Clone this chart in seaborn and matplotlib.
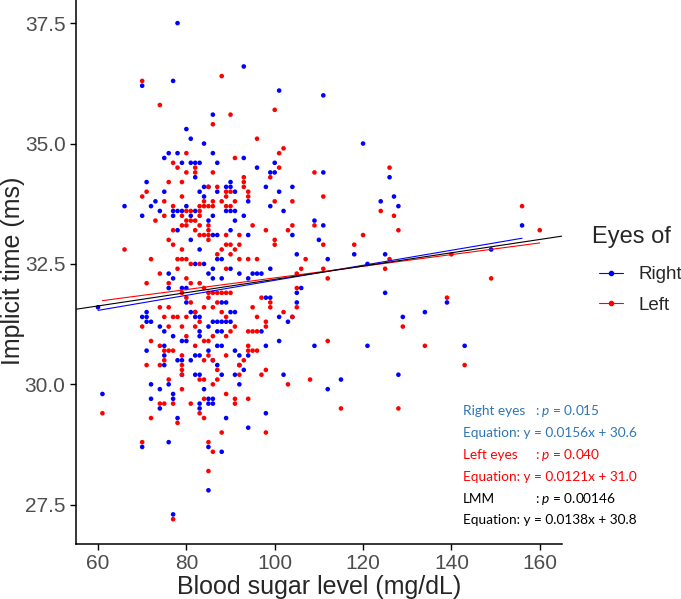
import matplotlib
matplotlib.use("Agg")
import numpy as np
import pandas as pd
import matplotlib.pyplot as plt
import seaborn as sns
from matplotlib.lines import Line2D

# points: (blood sugar mg/dL, implicit time ms)
right_points = [
    (78, 37.5), (93, 36.6), (70, 36.2), (77, 36.3), (101, 36.1), (86, 35.6), (80, 35.3),
    (81, 35.1), (84, 35.0), (76, 34.8), (78, 34.8), (75, 34.7), (79, 34.6), (81, 34.6), (82, 34.6),
    (83, 34.6), (82, 34.3), (71, 34.2), (84, 34.1), (85, 34.1), (75, 34.0), (83, 34.0), (84, 33.9),
    (73, 33.8), (66, 33.7), (72, 33.7), (80, 33.7), (74, 33.6), (77, 33.6), (78, 33.6), (79, 33.6),
    (82, 33.6), (70, 33.5), (77, 33.5), (81, 33.5), (85, 33.4), (78, 33.2), (81, 33.0),
    (86, 34.8), (87, 34.6), (93, 34.7), (96, 34.5), (100, 34.6), (99, 34.4), (100, 34.4), (90, 34.2),
    (89, 34.1), (90, 34.1), (98, 34.1), (104, 34.1), (87, 34.0), (91, 34.0), (101, 34.0), (94, 33.8),
    (99, 33.7), (89, 33.6), (90, 33.6), (91, 33.6), (102, 33.6), (86, 33.5), (93, 33.5), (91, 33.4),
    (90, 33.2), (86, 33.1), (87, 33.1), (94, 33.1), (104, 33.1),
    (83, 32.8), (82, 32.5), (84, 32.5), (76, 32.3), (77, 32.2), (76, 32.0), (79, 32.0), (80, 32.0),
    (80, 31.7), (71, 31.5), (70, 31.4), (71, 31.4), (81, 31.5), (82, 31.5), (82, 31.4), (83, 31.4),
    (71, 31.3), (72, 31.3), (74, 31.2), (75, 31.1), (77, 31.0), (83, 31.1), (83, 31.0), (79, 30.9),
    (80, 30.9), (75, 30.8), (71, 30.7), (75, 30.6), (78, 30.5), (79, 30.5), (82, 30.6), (83, 30.6),
    (87, 32.6), (88, 32.6), (86, 32.4), (85, 32.3), (90, 32.4), (92, 32.3), (95, 32.3), (96, 32.3),
    (97, 32.3), (99, 32.4), (86, 32.2), (88, 32.2), (94, 32.2), (98, 31.8), (99, 31.8), (88, 31.7),
    (89, 31.7), (90, 31.5), (91, 31.5), (101, 31.4), (103, 31.3), (86, 31.3), (87, 31.3), (88, 31.3),
    (89, 31.3), (90, 31.3), (85, 31.2), (87, 31.1), (88, 31.1), (97, 31.1), (101, 30.9), (87, 30.8),
    (88, 30.8), (98, 30.8), (85, 30.7), (91, 30.7), (87, 30.4), (92, 30.6), (94, 30.6),
    (75, 30.4), (81, 30.5), (79, 30.2), (82, 30.2), (83, 30.2), (72, 30.0), (76, 30.0), (74, 29.9),
    (84, 29.9), (77, 29.8), (72, 29.7), (77, 29.7), (85, 29.7), (74, 29.5), (83, 29.6), (83, 29.5),
    (78, 29.3), (70, 28.7), (76, 28.8), (85, 28.7), (85, 27.8), (77, 27.3),
    (86, 30.5), (92, 30.4), (88, 30.2), (91, 30.2), (93, 30.3), (102, 30.2), (92, 30.0), (86, 29.7),
    (85, 29.6), (86, 29.6), (98, 29.4), (89, 29.3), (94, 29.1), (88, 28.6),
    (111, 36.0), (120, 35.0), (111, 34.4), (126, 34.3), (127, 33.9), (124, 33.8), (128, 33.7),
    (109, 33.4), (111, 33.3), (110, 33.0), (105, 32.7), (112, 32.6), (118, 32.7), (125, 32.7),
    (121, 32.5), (106, 32.0), (105, 31.9), (125, 31.9), (105, 31.7), (104, 31.4), (129, 31.4),
    (109, 30.8), (121, 30.8), (128, 30.2), (115, 30.1), (112, 29.9),
    (156, 33.3), (149, 32.8), (139, 31.7), (134, 31.5), (143, 30.8),
    (60, 31.6), (61, 29.8),
]

left_points = [
    (88, 36.4), (70, 36.3), (74, 35.8), (100, 35.7), (90, 35.6), (86, 35.4),
    (80, 34.8), (77, 34.6), (78, 34.5), (82, 34.5), (80, 34.4), (82, 34.4), (76, 34.2), (79, 34.2),
    (71, 34.0), (70, 33.9), (79, 33.9), (75, 33.8), (84, 33.8), (77, 33.7), (83, 33.7), (84, 33.7),
    (85, 33.7), (80, 33.6), (81, 33.6), (83, 33.6), (75, 33.5), (79, 33.5), (83, 33.5), (73, 33.4),
    (80, 33.4), (81, 33.4), (82, 33.4), (79, 33.3), (80, 33.3), (83, 33.3), (77, 33.2), (82, 33.2),
    (85, 33.2), (83, 33.1), (84, 33.1), (85, 33.1), (76, 33.0),
    (96, 35.1), (102, 34.9), (101, 34.8), (91, 34.7), (101, 34.5), (86, 34.4), (99, 34.3), (93, 34.3),
    (93, 34.2), (93, 34.1), (85, 34.1), (87, 34.1), (89, 34.0), (90, 34.0), (94, 34.0), (94, 33.9),
    (89, 33.9), (86, 33.8), (88, 33.8), (91, 33.8), (100, 33.8), (104, 33.8), (86, 33.7), (89, 33.7),
    (90, 33.7), (85, 33.3), (95, 33.3), (98, 33.2), (103, 33.2), (104, 33.3), (89, 33.1), (92, 33.1),
    (77, 32.9), (66, 32.8), (79, 32.8), (72, 32.6), (78, 32.6), (79, 32.6), (80, 32.6), (81, 32.5),
    (83, 32.5), (78, 32.4), (74, 32.3), (80, 32.2), (71, 32.1), (76, 32.1), (81, 32.1), (83, 32.1),
    (84, 32.0), (74, 31.6), (76, 31.6), (75, 31.4), (77, 31.4), (78, 31.4), (80, 31.4), (70, 31.2),
    (76, 31.2), (79, 31.2), (82, 31.2), (72, 30.9), (74, 30.8), (75, 30.7), (76, 30.7), (77, 30.7),
    (75, 30.5), (71, 30.4), (79, 31.9), (80, 31.8), (81, 31.7), (82, 31.5), (83, 31.3), (84, 31.6),
    (85, 31.9), (80, 31.0), (84, 30.9), (82, 30.8), (79, 30.6), (84, 30.5), (85, 30.6),
    (85, 33.0), (89, 32.9), (90, 32.9), (92, 32.9), (100, 33.0), (100, 32.9), (94, 32.6), (96, 32.6),
    (89, 32.4), (86, 31.9), (87, 31.9), (88, 31.9), (89, 31.9), (90, 31.9), (97, 31.8), (99, 31.7),
    (95, 31.6), (99, 31.6), (102, 31.5), (96, 31.4), (104, 31.4), (98, 31.3), (98, 31.2), (94, 31.1),
    (95, 31.1), (96, 31.1), (89, 31.0), (94, 30.8), (94, 30.7), (95, 30.7), (96, 30.7), (92, 30.4),
    (88, 32.8), (91, 32.8), (87, 32.7), (90, 32.7), (92, 32.6), (86, 31.6), (87, 31.7), (88, 31.5),
    (89, 31.4), (86, 31.0), (90, 31.1), (91, 31.2), (85, 31.8), (85, 30.9), (86, 30.5), (89, 30.6),
    (74, 30.4), (79, 30.4), (79, 30.3), (79, 30.2), (76, 30.1), (83, 30.1), (84, 30.1), (79, 29.9),
    (84, 29.7), (74, 29.6), (75, 29.6), (77, 29.6), (81, 29.6), (83, 29.4), (84, 29.3), (72, 29.3),
    (78, 29.2), (70, 28.8), (85, 28.8), (85, 28.2), (77, 27.2),
    (93, 30.5), (87, 30.3), (98, 30.3), (92, 30.2), (97, 30.2), (87, 30.1), (103, 30.0), (86, 30.0),
    (89, 29.8), (91, 29.7), (94, 29.7), (91, 29.6), (88, 29.0), (98, 29.0), (86, 28.6),
    (109, 34.4), (126, 34.5), (111, 33.9), (124, 33.6), (127, 33.5), (109, 33.3), (128, 33.2),
    (120, 33.1), (111, 32.9), (118, 32.9), (107, 32.6), (106, 32.4), (111, 32.4), (126, 32.6),
    (125, 32.4), (105, 32.3), (112, 32.2), (105, 32.0), (105, 31.6), (129, 31.2), (112, 30.9),
    (108, 30.1), (115, 29.5), (128, 29.5),
    (156, 33.7), (160, 33.2), (140, 32.7), (149, 32.2), (139, 31.8), (134, 30.8), (143, 30.4),
    (61, 29.4),
]

# fitted lines (slope, intercept) from the equations in the chart
right_fit = (0.0156, 30.6)
left_fit = (0.0121, 31.0)
lmm_fit = (0.0138, 30.8)

x_ticks = [60, 80, 100, 120, 140, 160]
y_ticks = [27.5, 30.0, 32.5, 35.0, 37.5]

right_df = pd.DataFrame(right_points, columns=["sugar", "time"])
right_df["eye"] = "Right"
left_df = pd.DataFrame(left_points, columns=["sugar", "time"])
left_df["eye"] = "Left"
df = pd.concat([right_df, left_df], ignore_index=True)

sns.set_style("ticks")
plt.rcParams["font.family"] = ["Liberation Sans", "DejaVu Sans"]
plt.rcParams["mathtext.fontset"] = "custom"
plt.rcParams["mathtext.rm"] = "Lato"
plt.rcParams["mathtext.it"] = "Lato:italic"

colors = {"Right": "#0000FF", "Left": "#FF0000"}

fig = plt.figure(figsize=(6.81, 5.99), dpi=100)
ax = fig.add_axes([0.1115, 0.0918, 0.7135, 0.911])

sns.scatterplot(data=df, x="sugar", y="time", hue="eye", palette=colors,
                s=11, linewidth=0, legend=False, ax=ax, zorder=2)

ax.set_xlim(55, 165)
ax.set_ylim(26.685, 38.015)

# group regression lines over each group's data range
for eye, fit in [("Right", right_fit), ("Left", left_fit)]:
    sub = df[df["eye"] == eye]
    xs = np.array([sub["sugar"].min(), sub["sugar"].max()])
    ax.plot(xs, fit[0] * xs + fit[1], color=colors[eye], lw=0.8, zorder=3)

# LMM line across the whole panel
xs = np.array(ax.get_xlim())
ax.plot(xs, lmm_fit[0] * xs + lmm_fit[1], color="black", lw=0.8, zorder=3)

ax.set_xticks(x_ticks)
ax.set_yticks(y_ticks)
ax.set_yticklabels([f"{v:.1f}" for v in y_ticks])
ax.tick_params(labelsize=15, labelcolor="#4D4D4D", color="black", length=4, width=1)
for side in ["left", "bottom"]:
    ax.spines[side].set_linewidth(1.1)
    ax.spines[side].set_color("black")
sns.despine(ax=ax)

ax.set_xlabel("Blood sugar level (mg/dL)", fontsize=18, labelpad=1)
ax.set_ylabel("Implicit time (ms)", fontsize=18, labelpad=0)

W, H = 681, 599

# legend: title as its own text so the gap to the keys matches
fig.text(592 / W, 1 - 237 / H, "Eyes of", fontsize=17, va="center", ha="left")
handles = [Line2D([], [], color=colors["Right"], marker="o", markersize=3, lw=0.8),
           Line2D([], [], color=colors["Left"], marker="o", markersize=3, lw=0.8)]
fig.legend(handles, ["Right", "Left"], loc="center left",
           bbox_to_anchor=(0.866, 1 - 290 / H), frameon=False, borderpad=0, fontsize=13.5,
           handlelength=1.3, handletextpad=0.8, labelspacing=0.72)

# stats text
stats = [
    ("Right eyes", ": $p$ = 0.015", "#2E75B6"),
    ("Equation: y = 0.0156x + 30.6", None, "#2E75B6"),
    ("Left eyes", ": $p$ = 0.040", "#FF0000"),
    ("Equation: y = 0.0121x + 31.0", None, "#FF0000"),
    ("LMM", ": $p$ = 0.00146", "black"),
    ("Equation: y = 0.0138x + 30.8", None, "black"),
]
ys = [411, 433, 455, 477, 499, 520]
for (label, tail, col), yy in zip(stats, ys):
    fig.text(463 / W, 1 - yy / H, label, color=col, family="Lato", fontsize=9.8, va="center")
    if tail:
        fig.text(535 / W, 1 - yy / H, tail, color=col, family="Lato", fontsize=9.8, va="center")

fig.savefig("out.png", dpi=100)
